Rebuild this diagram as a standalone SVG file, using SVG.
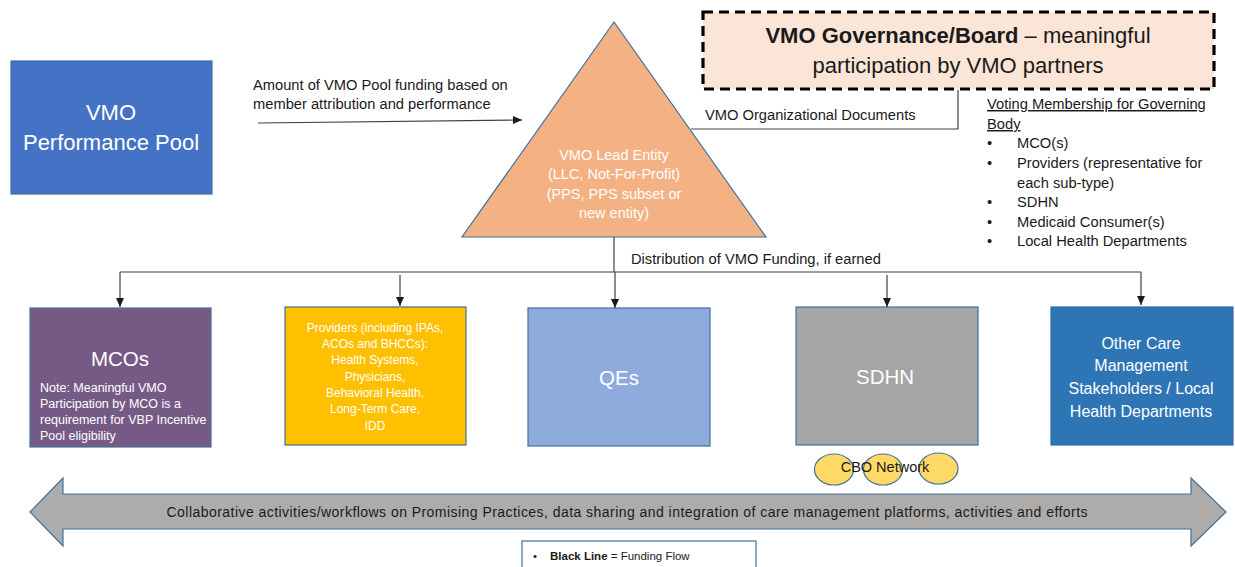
<svg xmlns="http://www.w3.org/2000/svg" width="1235" height="567" viewBox="0 0 1235 567">
<style>
text{font-family:"Liberation Sans",Arial,sans-serif;}
.w{fill:#fff}
.k{fill:#1a1a1a}
.box{stroke:#41719C;stroke-width:1.2}
.c{stroke:#404040;stroke-width:1.2;fill:none}
.body{font-size:14.7px}
.mid{text-anchor:middle}
</style>
<defs>
<marker id="ah" markerUnits="userSpaceOnUse" markerWidth="10" markerHeight="10" refX="9" refY="5" orient="auto">
<path d="M0,1 L9,5 L0,9 Z" fill="#1a1a1a"/>
</marker>
</defs>
<rect width="1235" height="567" fill="#fff"/>

<g id="pool">
<rect class="box" x="11" y="61" width="201" height="133" fill="#4472C4"/>
<text class="w mid" x="111" y="120" font-size="22">VMO</text>
<text class="w mid" x="111" y="150" font-size="22">Performance Pool</text>
</g>

<g id="lead">
<polygon class="box" points="614,22 462,237 766,237" fill="#F4B183"/>
<text class="w mid" x="614" y="160" font-size="14.5">VMO Lead Entity</text>
<text class="w mid" x="614" y="179" font-size="14.5">(LLC, Not-For-Profit)</text>
<text class="w mid" x="614" y="199" font-size="14.5">(PPS, PPS subset or</text>
<text class="w mid" x="614" y="218" font-size="14.5">new entity)</text>
</g>

<g id="governance">
<rect x="703" y="12" width="511" height="77" fill="#FBE5D6" stroke="#000" stroke-width="3.2" stroke-dasharray="10,6"/>
<text class="k mid" x="958" y="43" font-size="22"><tspan font-weight="bold">VMO Governance/Board</tspan> – meaningful</text>
<text class="k mid" x="958" y="73" font-size="22">participation by VMO partners</text>
</g>

<g id="voting">
<text class="k body" x="987" y="109" text-decoration="underline">Voting Membership for Governing</text>
<text class="k body" x="987" y="129" text-decoration="underline">Body</text>
<text class="k body" x="987" y="148">•</text><text class="k body" x="1017" y="148">MCO(s)</text>
<text class="k body" x="987" y="168">•</text><text class="k body" x="1017" y="168">Providers (representative for</text>
<text class="k body" x="1017" y="188">each sub-type)</text>
<text class="k body" x="987" y="207">•</text><text class="k body" x="1017" y="207">SDHN</text>
<text class="k body" x="987" y="227">•</text><text class="k body" x="1017" y="227">Medicaid Consumer(s)</text>
<text class="k body" x="987" y="246">•</text><text class="k body" x="1017" y="246">Local Health Departments</text>
</g>

<g id="mcos">
<rect class="box" x="30" y="308" width="181" height="139" fill="#765A86"/>
<text class="w mid" x="120" y="366" font-size="20.5">MCOs</text>
<text class="w" x="40" y="392" font-size="12.5">Note: Meaningful VMO</text>
<text class="w" x="40" y="408" font-size="12.5">Participation by MCO is a</text>
<text class="w" x="40" y="424" font-size="12.5">requirement for VBP Incentive</text>
<text class="w" x="40" y="440" font-size="12.5">Pool eligibility</text>
</g>

<g id="providers">
<rect class="box" x="285" y="307" width="181" height="138" fill="#FFC000"/>
<g class="w mid" font-size="12">
<text x="375" y="332">Providers (including IPAs,</text>
<text x="375" y="348">ACOs and BHCCs):</text>
<text x="375" y="364">Health Systems,</text>
<text x="375" y="381">Physicians,</text>
<text x="375" y="397">Behavioral Health,</text>
<text x="375" y="413">Long-Term Care,</text>
<text x="375" y="430">IDD</text>
</g>
</g>

<g id="qes">
<rect class="box" x="528" y="308" width="182" height="138" fill="#8FAADC"/>
<text class="w mid" x="619" y="385" font-size="20.5">QEs</text>
</g>

<g id="sdhn">
<rect class="box" x="796" y="307" width="182" height="138" fill="#A5A5A5"/>
<text class="w mid" x="885" y="384" font-size="20.5">SDHN</text>
</g>

<g id="other">
<rect x="1051" y="307" width="182" height="138" fill="#2E75B6" stroke="#2F6DA8" stroke-width="1.2"/>
<g class="w mid" font-size="16">
<text x="1141" y="349">Other Care</text>
<text x="1141" y="371">Management</text>
<text x="1141" y="394">Stakeholders / Local</text>
<text x="1141" y="417">Health Departments</text>
</g>
</g>

<g id="cbo">
<ellipse class="box" cx="834" cy="469.5" rx="19.5" ry="15.5" fill="#FFD966"/>
<ellipse class="box" cx="883" cy="469.5" rx="19.5" ry="15.5" fill="#FFD966"/>
<ellipse class="box" cx="938.5" cy="468.5" rx="19.5" ry="15.5" fill="#FFD966"/>
<text class="k mid" x="885" y="472" font-size="14.5">CBO Network</text>
</g>

<g id="collab">
<polygon points="30,512 63,478 63,494 1191,494 1191,478 1226,512 1191,546 1191,529 63,529 63,546" fill="#AEABAB" stroke="#41719C" stroke-width="1.2"/>
<text class="k mid" x="627" y="517" font-size="14" textLength="921" lengthAdjust="spacing">Collaborative activities/workflows on Promising Practices, data sharing and integration of care management platforms, activities and efforts</text>
</g>

<g id="legend">
<rect x="522" y="541" width="234" height="40" fill="#fff" stroke="#41719C" stroke-width="1.2"/>
<text class="k" x="533" y="560" font-size="11.5">•</text>
<text class="k" x="550" y="560" font-size="11.5"><tspan font-weight="bold">Black Line</tspan> = Funding Flow</text>
</g>

<g id="connectors">
<line class="c" x1="258" y1="123" x2="522" y2="120" marker-end="url(#ah)"/>
<polyline class="c" points="691,129 958,129 958,90"/>
<line class="c" x1="614" y1="237" x2="614" y2="272"/>
<line class="c" x1="120" y1="272" x2="1141" y2="272"/>
<line class="c" x1="120" y1="272" x2="120" y2="307" marker-end="url(#ah)"/>
<line class="c" x1="400" y1="275" x2="400" y2="306" marker-end="url(#ah)"/>
<line class="c" x1="615" y1="272" x2="615" y2="308" marker-end="url(#ah)"/>
<line class="c" x1="887" y1="275" x2="887" y2="307" marker-end="url(#ah)"/>
<line class="c" x1="1141" y1="272" x2="1141" y2="305" marker-end="url(#ah)"/>
</g>

<g id="labels">
<text class="k body" x="253" y="90">Amount of VMO Pool funding based on</text>
<text class="k body" x="253" y="109">member attribution and performance</text>
<text class="k body" x="705" y="120">VMO Organizational Documents</text>
<text class="k body" x="631" y="264">Distribution of VMO Funding, if earned</text>
</g>
</svg>
